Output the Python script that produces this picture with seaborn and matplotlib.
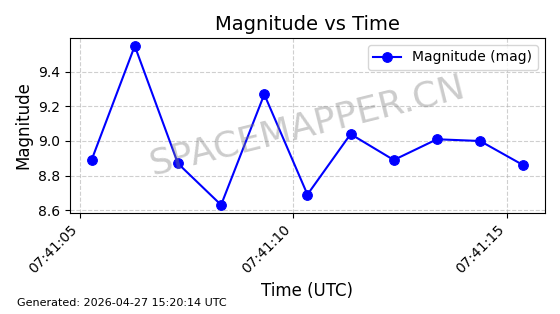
import matplotlib
matplotlib.use("Agg")
import matplotlib.pyplot as plt
import matplotlib.dates as mdates
import seaborn as sns
import pandas as pd

times = ["07:41:05.28", "07:41:06.29", "07:41:07.30", "07:41:08.31", "07:41:09.32",
         "07:41:10.33", "07:41:11.34", "07:41:12.35", "07:41:13.36", "07:41:14.37",
         "07:41:15.38"]
magnitudes = [8.89, 9.55, 8.87, 8.63, 9.27, 8.69, 9.04, 8.89, 9.01, 9.00, 8.86]

df = pd.DataFrame({
    "time": pd.to_datetime(["2026-04-27 " + t for t in times]),
    "mag": magnitudes,
})

fig, ax = plt.subplots(figsize=(5.6, 3.14), dpi=100)
sns.lineplot(data=df, x="time", y="mag", ax=ax, color="blue", marker="o",
             markersize=7, markeredgecolor="blue", linewidth=1.5,
             label="Magnitude (mag)")

ax.set_title("Magnitude vs Time", fontsize=14)
ax.set_xlabel("Time (UTC)", fontsize=12)
ax.set_ylabel("Magnitude", fontsize=12)
ax.grid(True, linestyle="--", alpha=0.6)
ax.xaxis.set_major_formatter(mdates.DateFormatter("%H:%M:%S"))
ax.xaxis.set_major_locator(mdates.SecondLocator(bysecond=[5, 10, 15]))
plt.setp(ax.get_xticklabels(), rotation=45, ha="right")
ax.legend(loc="upper right")

ax.text(0.5, 0.5, "SPACEMAPPER.CN", transform=ax.transAxes, fontsize=26,
        color="gray", alpha=0.4, rotation=14, ha="center", va="center")

fig.text(0.03, 0.025, "Generated: 2026-04-27 15:20:14 UTC", fontsize=8)

fig.subplots_adjust(left=0.125, right=0.973, top=0.879, bottom=0.322)
fig.savefig("out.png", dpi=100)
